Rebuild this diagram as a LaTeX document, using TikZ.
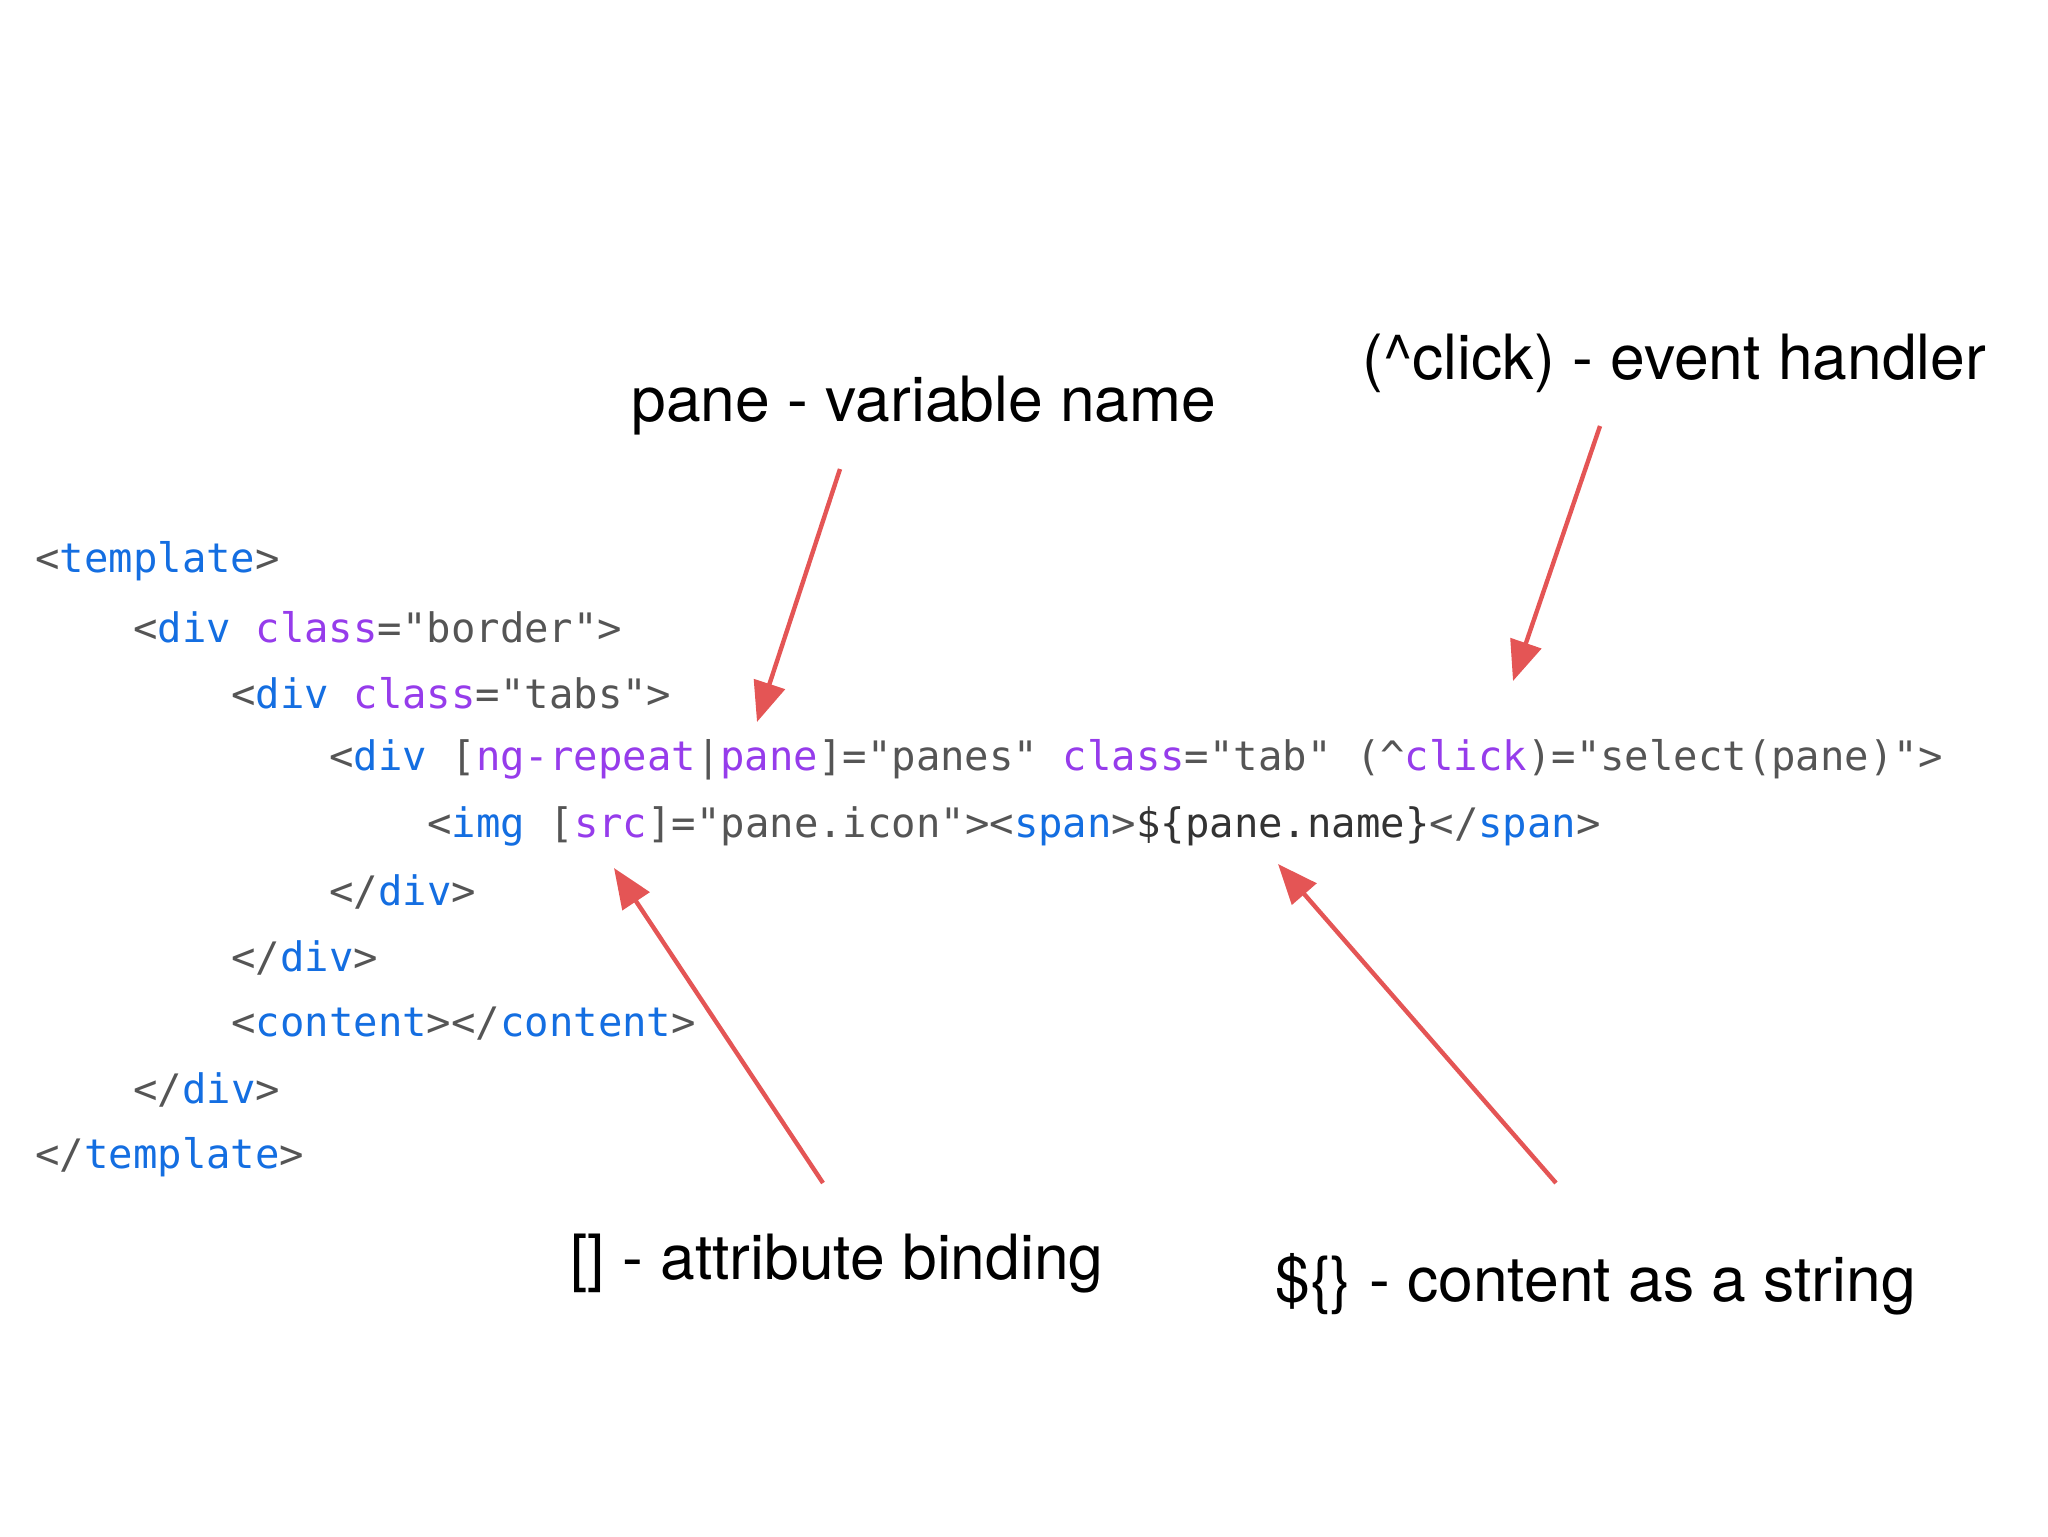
\documentclass[tikz,border=0pt]{standalone}
\usepackage{fontspec}
\setmainfont{TeX Gyre Heros}
\setmonofont{DejaVu Sans Mono}
\usetikzlibrary{arrows.meta}
\definecolor{tagc}{RGB}{20,110,225}
\definecolor{attc}{RGB}{150,60,235}
\definecolor{txtc}{RGB}{85,85,85}
\definecolor{arr}{RGB}{228,85,85}
\newcommand{\tg}[1]{\textcolor{tagc}{#1}}
\newcommand{\at}[1]{\textcolor{attc}{#1}}
\tikzset{code/.style={anchor=west,inner sep=0pt,font=\ttfamily\fontsize{20.3}{24}\selectfont,text=txtc},
lbl/.style={anchor=west,inner sep=0pt,font=\fontsize{31.2}{36}\selectfont,text=black},
redarrow/.style={draw=arr,line width=2.2pt,-{Triangle[length=20pt,width=16pt]}}}
\begin{document}
\begin{tikzpicture}[x=0.5pt,y=-0.5pt]
\useasboundingbox (0,0) rectangle (2048,1536);
\node[code] (l1) at (35,561) {<\tg{template}>};
\node[code] (l2) at (133,627) {<\tg{div} \at{class}="border">};
\node[code] (l3) at (231,693) {<\tg{div} \at{class}="tabs">};
\node[code] (l4) at (329,760) {<\tg{div} [\at{ng-repeat}|\at{pane}]="panes" \at{class}="tab" (\textasciicircum\at{click})="select(pane)">};
\node[code] (l5) at (427,826) {<\tg{img} [\at{src}]="pane.icon"><\tg{span}>\textcolor{black!80}{\$\{pane.name\}}</\tg{span}>};
\node[code] (l6) at (329,892) {</\tg{div}>};
\node[code] (l7) at (231,958) {</\tg{div}>};
\node[code] (l8) at (231,1024) {<\tg{content}></\tg{content}>};
\node[code] (l9) at (133,1090) {</\tg{div}>};
\node[code] (l10) at (35,1157) {</\tg{template}>};
\node[lbl] (t1) at (631,406) {pane - variable name};
\node[lbl] (t2) at (1362,363) {(\textasciicircum click) - event handler};
\node[lbl] (t3) at (570,1264) {[] - attribute binding};
\node[lbl] (t4) at (1275,1284) {\$\{\} - content as a string};
\coordinate (a1s) at (840,469); \coordinate (a1e) at (757,722);
\coordinate (a2s) at (1600,426); \coordinate (a2e) at (1513,681);
\coordinate (a3s) at (823,1183); \coordinate (a3e) at (614,868);
\coordinate (a4s) at (1556,1183); \coordinate (a4e) at (1278,864);
\draw[redarrow] (a1s) -- (a1e);
\draw[redarrow] (a2s) -- (a2e);
\draw[redarrow] (a3s) -- (a3e);
\draw[redarrow] (a4s) -- (a4e);
\end{tikzpicture}
\end{document}
